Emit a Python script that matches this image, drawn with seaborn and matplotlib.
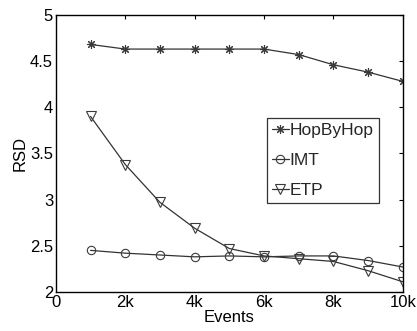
import matplotlib
matplotlib.use("Agg")
import matplotlib.pyplot as plt
import seaborn as sns
import pandas as pd

events = [1000, 2000, 3000, 4000, 5000, 6000, 7000, 8000, 9000, 10000]
hopbyhop = [4.68, 4.63, 4.63, 4.63, 4.63, 4.63, 4.57, 4.46, 4.38, 4.28]
imt = [2.45, 2.42, 2.40, 2.38, 2.39, 2.38, 2.39, 2.39, 2.34, 2.27]
etp = [3.90, 3.38, 2.97, 2.69, 2.47, 2.39, 2.36, 2.33, 2.23, 2.11]
xticks = [0, 2000, 4000, 6000, 8000, 10000]
xticklabels = ["0", "2k", "4k", "6k", "8k", "10k"]
yticks = [2, 2.5, 3, 3.5, 4, 4.5, 5]
yticklabels = ["2", "2.5", "3", "3.5", "4", "4.5", "5"]

sns.set_theme(style="white")
plt.rcParams["font.family"] = ["Liberation Sans", "DejaVu Sans"]

df = pd.DataFrame({
    "Events": events * 3,
    "RSD": hopbyhop + imt + etp,
    "series": ["HopByHop"] * 10 + ["IMT"] * 10 + ["ETP"] * 10,
})

fig = plt.figure(figsize=(4.17, 3.31), dpi=100)
ax = fig.add_axes([0.134, 0.118, 0.832, 0.837])

# asterisk, circle and down-triangle markers
styles = {"HopByHop": ((8, 2, 0), 6.5), "IMT": ("o", 6), "ETP": ("v", 6.5)}
for name, (mk, ms) in styles.items():
    sub = df[df["series"] == name]
    sns.lineplot(data=sub, x="Events", y="RSD", ax=ax, color="#333333",
                 linewidth=0.9, marker=mk, markersize=ms,
                 markerfacecolor="none", markeredgecolor="#3a3a3a",
                 markeredgewidth=0.8, label=name)

ax.set_xlim(0, 10000)
ax.set_ylim(2, 5)
ax.set_xticks(xticks)
ax.set_xticklabels(xticklabels)
ax.set_yticks(yticks)
ax.set_yticklabels(yticklabels)
ax.tick_params(direction="in", length=3, width=0.8, colors="black",
               labelsize=12, top=True, right=True, pad=2)
for s in ax.spines.values():
    s.set_color("black")
    s.set_linewidth(1.0)
ax.set_xlabel("Events", fontsize=12, labelpad=0, color="black")
ax.set_ylabel("RSD", fontsize=12, labelpad=2, color="black")

leg = ax.legend(loc="upper left", bbox_to_anchor=(0.608, 0.628), fontsize=12.5,
                frameon=True, fancybox=False, handlelength=0.95,
                handletextpad=0.05, borderpad=0.3, labelspacing=0.85,
                borderaxespad=0)
leg.get_frame().set_edgecolor("black")
leg.get_frame().set_linewidth(0.9)

fig.savefig("out.png", dpi=100)
